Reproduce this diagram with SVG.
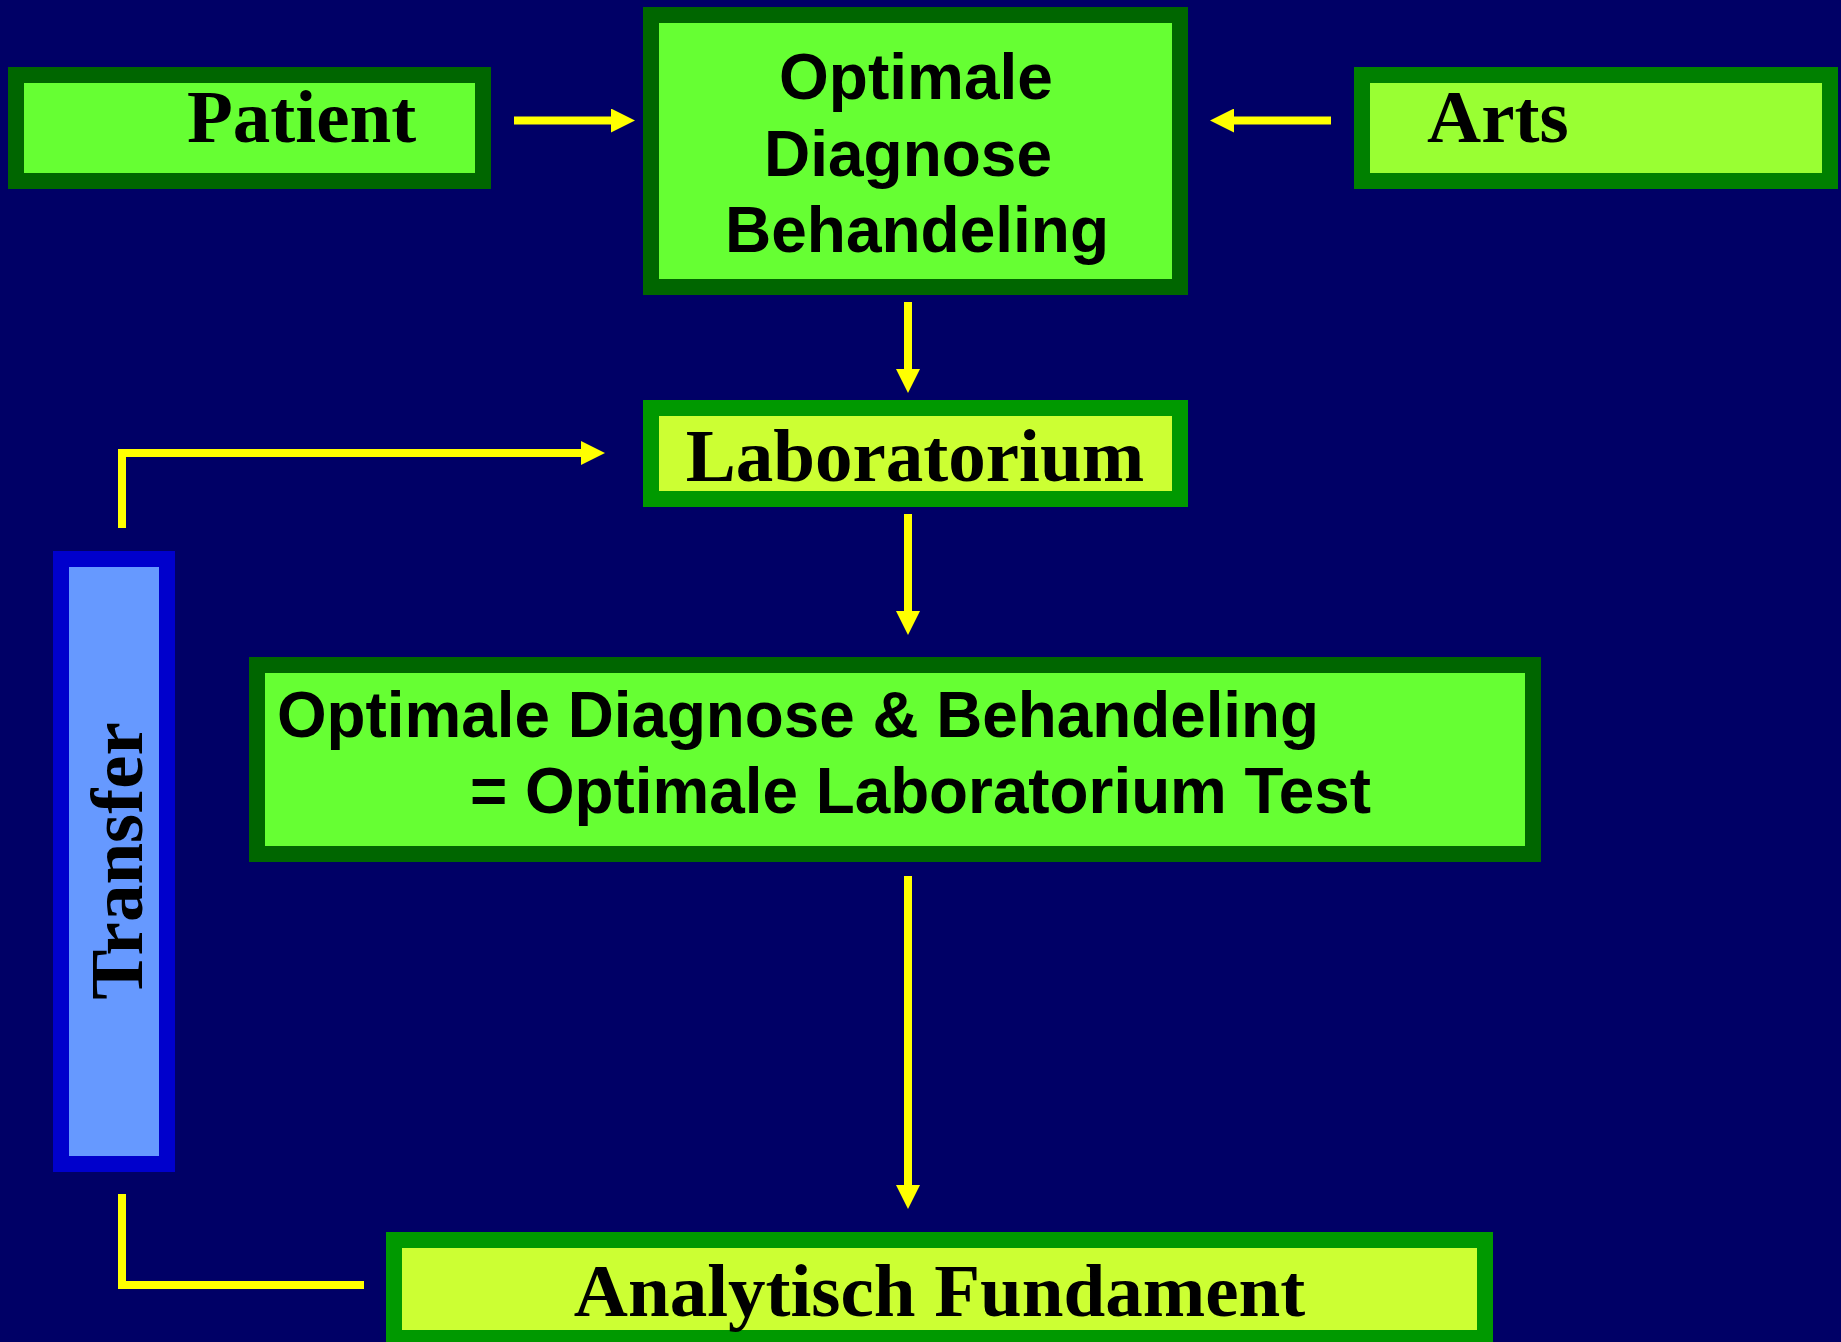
<svg xmlns="http://www.w3.org/2000/svg" width="1841" height="1342" viewBox="0 0 1841 1342">
<defs>
<style>
.serif{font-family:"Liberation Serif","Times New Roman",serif;font-weight:bold;font-size:75px;fill:#000}
.sans{font-family:"Liberation Sans",Arial,sans-serif;font-weight:bold;fill:#000}
.conn{fill:none;stroke:#FFFF00;stroke-width:8}
</style>
<marker id="ah" markerUnits="userSpaceOnUse" markerWidth="24" markerHeight="24" refX="0" refY="12" orient="auto" viewBox="0 0 24 24">
<path d="M0,0 L24,12 L0,24 z" fill="#FFFF00"/>
</marker>
</defs>
<rect x="0" y="0" width="1841" height="1342" fill="#000066"/>

<g id="connectors">
<path class="conn" d="M514,120.5 H611" marker-end="url(#ah)"/>
<path class="conn" d="M1331,120.5 H1234" marker-end="url(#ah)"/>
<path class="conn" d="M908,302 V369" marker-end="url(#ah)"/>
<path class="conn" d="M908,514 V611" marker-end="url(#ah)"/>
<path class="conn" d="M908,876 V1185" marker-end="url(#ah)"/>
<path class="conn" d="M122,528 V453 H581" marker-end="url(#ah)"/>
<path class="conn" d="M364,1285 H122 V1194"/>
</g>

<g id="patient">
<rect x="16" y="75" width="467" height="106" fill="#66FF33" stroke="#006600" stroke-width="16"/>
<text class="serif" x="187" y="142">Patient</text>
</g>

<g id="optimale">
<rect x="651" y="15" width="529" height="272" fill="#66FF33" stroke="#006600" stroke-width="16"/>
<text class="sans" font-size="64" text-anchor="middle" x="916" y="99">Optimale</text>
<text class="sans" font-size="64" text-anchor="middle" x="908" y="176">Diagnose</text>
<text class="sans" font-size="64" text-anchor="middle" x="917" y="252">Behandeling</text>
</g>

<g id="arts">
<rect x="1362" y="75" width="468" height="106" fill="#99FF33" stroke="#008000" stroke-width="16"/>
<text class="serif" x="1427" y="142">Arts</text>
</g>

<g id="laboratorium">
<rect x="651" y="408" width="529" height="91" fill="#CCFF33" stroke="#009900" stroke-width="16"/>
<text class="serif" text-anchor="middle" x="915" y="481">Laboratorium</text>
</g>

<g id="optimale-test">
<rect x="257" y="665" width="1276" height="189" fill="#66FF33" stroke="#006600" stroke-width="16"/>
<text class="sans" font-size="64" x="277" y="737" textLength="1042" lengthAdjust="spacingAndGlyphs">Optimale Diagnose &amp; Behandeling</text>
<text class="sans" font-size="64" x="470" y="813" textLength="901" lengthAdjust="spacingAndGlyphs">= Optimale Laboratorium Test</text>
</g>

<g id="transfer">
<rect x="61" y="559" width="106" height="605" fill="#6699FF" stroke="#0000CC" stroke-width="16"/>
<text class="serif" font-size="74" text-anchor="middle" transform="translate(142,861) rotate(-90)" x="0" y="0">Transfer</text>
</g>

<g id="analytisch">
<rect x="394" y="1240" width="1091" height="98" fill="#CCFF33" stroke="#009900" stroke-width="16"/>
<text class="serif" text-anchor="middle" x="939.5" y="1316">Analytisch Fundament</text>
</g>
</svg>
